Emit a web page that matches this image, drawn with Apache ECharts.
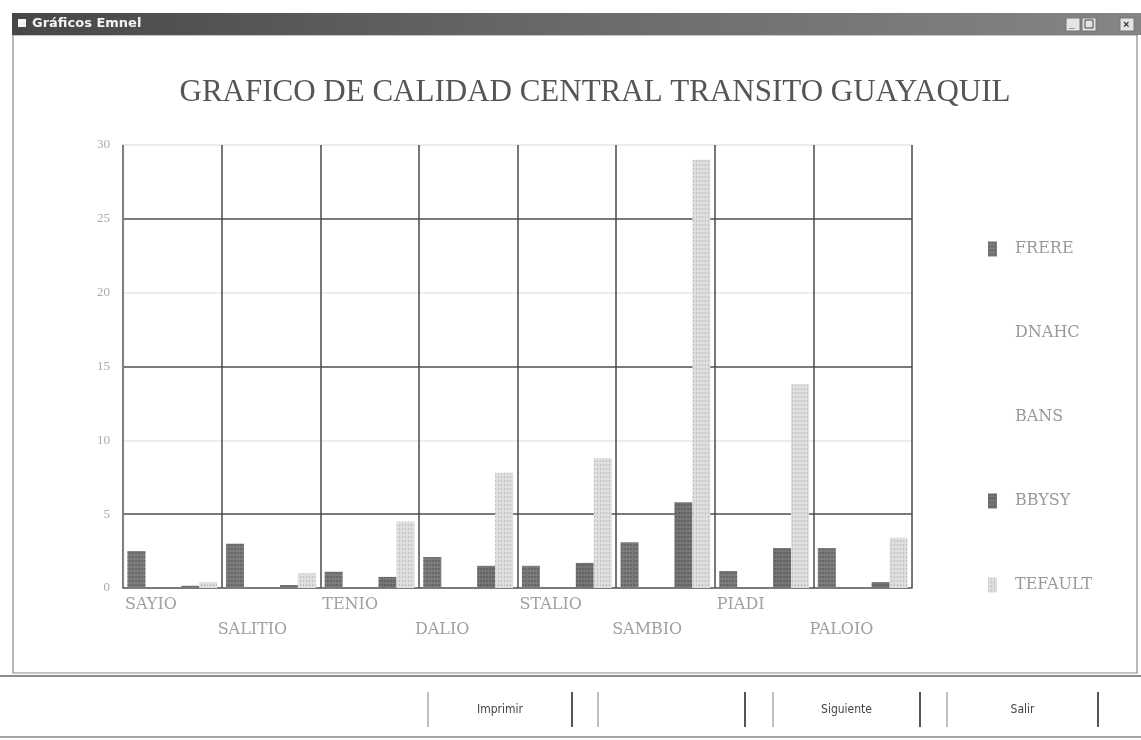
<!DOCTYPE html>
<html>
<head>
<meta charset="utf-8">
<script src="https://cdn.jsdelivr.net/npm/echarts@6/dist/echarts.min.js"></script>
<style>
html,body{margin:0;padding:0;background:#fff;}
#chart{width:1141px;height:740px;}
</style>
</head>
<body>
<div id="chart"></div>
<script>
const categories = ['SAYIO', 'SALITIO', 'TENIO', 'DALIO', 'STALIO', 'SAMBIO', 'PIADI', 'PALOIO'];
const seriesNames = ['FRERE', 'DNAHC', 'BANS', 'BBYSY', 'TEFAULT'];
const frere   = [2.5, 3.0, 1.1, 2.1, 1.5, 3.1, 1.15, 2.7];
const dnahc   = [0, 0, 0, 0, 0, 0, 0, 0];
const bans    = [0, 0, 0, 0, 0, 0, 0, 0];
const bbysy   = [0.15, 0.2, 0.75, 1.5, 1.7, 5.8, 2.7, 0.4];
const tefault = [0.4, 1.0, 4.5, 7.8, 8.8, 29.0, 13.8, 3.4];
const yTicks = [0, 5, 10, 15, 20, 25, 30];
const chartTitle = 'GRAFICO DE CALIDAD CENTRAL TRANSITO GUAYAQUIL';
const windowTitle = 'Gráficos Emnel';
const buttons = ['Imprimir', '', 'Siguiente', 'Salir'];

const serif = '"Liberation Serif", "DejaVu Serif", serif';
const wideSerif = '"DejaVu Serif", "Liberation Serif", serif';
const chart = echarts.init(document.getElementById('chart'), null, {renderer: 'canvas'});

const seriesData = [frere, dnahc, bans, bbysy, tefault];
const seriesColors = ['#7c7c7c', '#ffffff', '#ffffff', '#767676', '#dedede'];
const decals = [
  {symbol: 'rect', symbolSize: 1, color: 'rgba(60,60,60,0.35)', dashArrayX: [2, 1], dashArrayY: [2, 2], rotation: 0},
  null, null,
  {symbol: 'rect', symbolSize: 1, color: 'rgba(60,60,60,0.35)', dashArrayX: [2, 1], dashArrayY: [2, 2], rotation: 0},
  {symbol: 'rect', symbolSize: 1, color: 'rgba(150,150,150,0.45)', dashArrayX: [1, 2], dashArrayY: [2, 2], rotation: 0}
];

const series = seriesNames.map((n, i) => {
  const s = {
    name: n,
    type: 'bar',
    xAxisIndex: 0,
    yAxisIndex: 0,
    data: seriesData[i],
    barGap: '0%',
    barCategoryGap: '9%',
    itemStyle: {color: seriesColors[i]},
    emphasis: {disabled: true}
  };
  if (decals[i]) s.itemStyle.decal = decals[i];
  return s;
});

// window chrome
const btnBoxes = [[428, 572], [598, 745], [773, 920], [947, 1098]];
const graphics = [
  {type: 'rect', shape: {x: 12, y: 13, width: 1129, height: 22},
   style: {fill: new echarts.graphic.LinearGradient(0, 0, 1, 0, [{offset: 0, color: '#474747'}, {offset: 0.5, color: '#6a6a6a'}, {offset: 1, color: '#858585'}])}},
  {type: 'rect', shape: {x: 18, y: 19, width: 8, height: 8}, style: {fill: '#f4f4f4'}},
  {type: 'text', x: 32, y: 17, style: {text: windowTitle, fill: '#f2f2f2', font: 'bold 13px "DejaVu Sans", sans-serif'}},
  {type: 'rect', shape: {x: 1066, y: 18, width: 14, height: 13}, style: {fill: '#e4e4e4', stroke: '#777'}},
  {type: 'rect', shape: {x: 1082, y: 18, width: 14, height: 13}, style: {fill: '#e4e4e4', stroke: '#777'}},
  {type: 'rect', shape: {x: 1120, y: 18, width: 14, height: 13}, style: {fill: '#e4e4e4', stroke: '#777'}},
  {type: 'text', x: 1069, y: 19, style: {text: '_', fill: '#333', font: 'bold 10px sans-serif'}},
  {type: 'rect', shape: {x: 1085, y: 20, width: 8, height: 8}, style: {fill: 'none', stroke: '#444'}},
  {type: 'text', x: 1123, y: 19, style: {text: '×', fill: '#333', font: 'bold 11px sans-serif'}},
  {type: 'rect', shape: {x: 13, y: 35, width: 1124, height: 638}, style: {fill: 'none', stroke: '#8a8a8a', lineWidth: 1.2}, z: -1},
  {type: 'line', shape: {x1: 0, y1: 676, x2: 1141, y2: 676}, style: {stroke: '#666', lineWidth: 1.5}},
  {type: 'line', shape: {x1: 0, y1: 737, x2: 1141, y2: 737}, style: {stroke: '#888', lineWidth: 1.5}}
];
btnBoxes.forEach((b, i) => {
  graphics.push({type: 'line', shape: {x1: b[0], y1: 692, x2: b[0], y2: 727}, style: {stroke: '#aaa', lineWidth: 1.5}});
  graphics.push({type: 'line', shape: {x1: b[1], y1: 692, x2: b[1], y2: 727}, style: {stroke: '#555', lineWidth: 2}});
  if (buttons[i]) {
    graphics.push({type: 'text', x: (b[0] + b[1]) / 2, y: 710,
      style: {text: buttons[i], fill: '#444', font: '12px "DejaVu Sans Condensed", "DejaVu Sans", sans-serif', textAlign: 'center', textVerticalAlign: 'middle'}});
  }
});

const option = {
  backgroundColor: '#ffffff',
  animation: false,
  title: {
    text: chartTitle,
    left: 590,
    top: 72,
    textAlign: 'center',
    textStyle: {fontFamily: serif, fontSize: 31, fontWeight: 'normal', color: '#555'}
  },
  legend: {
    data: seriesNames,
    orient: 'vertical',
    left: 983,
    top: 236,
    itemWidth: 9,
    itemHeight: 15,
    itemGap: 68,
    icon: 'rect',
    selectedMode: false,
    textStyle: {fontFamily: wideSerif, fontSize: 16, color: '#9a9a9a', padding: [0, 0, 0, 13]}
  },
  grid: {left: 123, right: 229, top: 145, bottom: 152, containLabel: false},
  xAxis: [
    {
      type: 'category',
      data: categories,
      position: 'bottom',
      axisLine: {show: true, lineStyle: {color: '#555', width: 1.5}},
      axisTick: {show: false},
      axisLabel: {show: false},
      splitLine: {show: false}
    },
    {
      type: 'value',
      min: 0,
      max: categories.length,
      interval: 1,
      position: 'bottom',
      axisLine: {show: false},
      axisTick: {show: false},
      splitLine: {show: true, lineStyle: {color: '#4a4a4a', width: 1.5}},
      axisLabel: {
        show: true,
        margin: 9,
        align: 'left',
        showMinLabel: true,
        showMaxLabel: true,
        formatter: function (v) {
          const i = Math.round(v);
          if (i < 0 || i >= categories.length) return '';
          return i % 2 === 0 ? '{a|' + categories[i] + '}' : '{b|' + categories[i] + '}';
        },
        rich: {
          a: {fontFamily: wideSerif, fontSize: 16, color: '#a0a0a0', padding: [0, 0, 0, 2]},
          b: {fontFamily: wideSerif, fontSize: 16, color: '#a0a0a0', padding: [25, 0, 0, -4]}
        }
      }
    }
  ],
  yAxis: {
    type: 'value',
    min: 0,
    max: 30,
    interval: 5,
    axisLine: {show: true, lineStyle: {color: '#888', width: 1.2}},
    axisTick: {show: false},
    axisLabel: {
      margin: 13,
      fontFamily: serif,
      fontSize: 13,
      color: '#aaa',
      formatter: function (v) { return yTicks.indexOf(v) >= 0 ? String(v) : ''; }
    },
    splitLine: {show: true, lineStyle: {color: ['#e6e6e6', '#4f4f4f'], width: 1.5}}
  },
  graphic: graphics,
  series: series
};

chart.setOption(option);
</script>
</body>
</html>
